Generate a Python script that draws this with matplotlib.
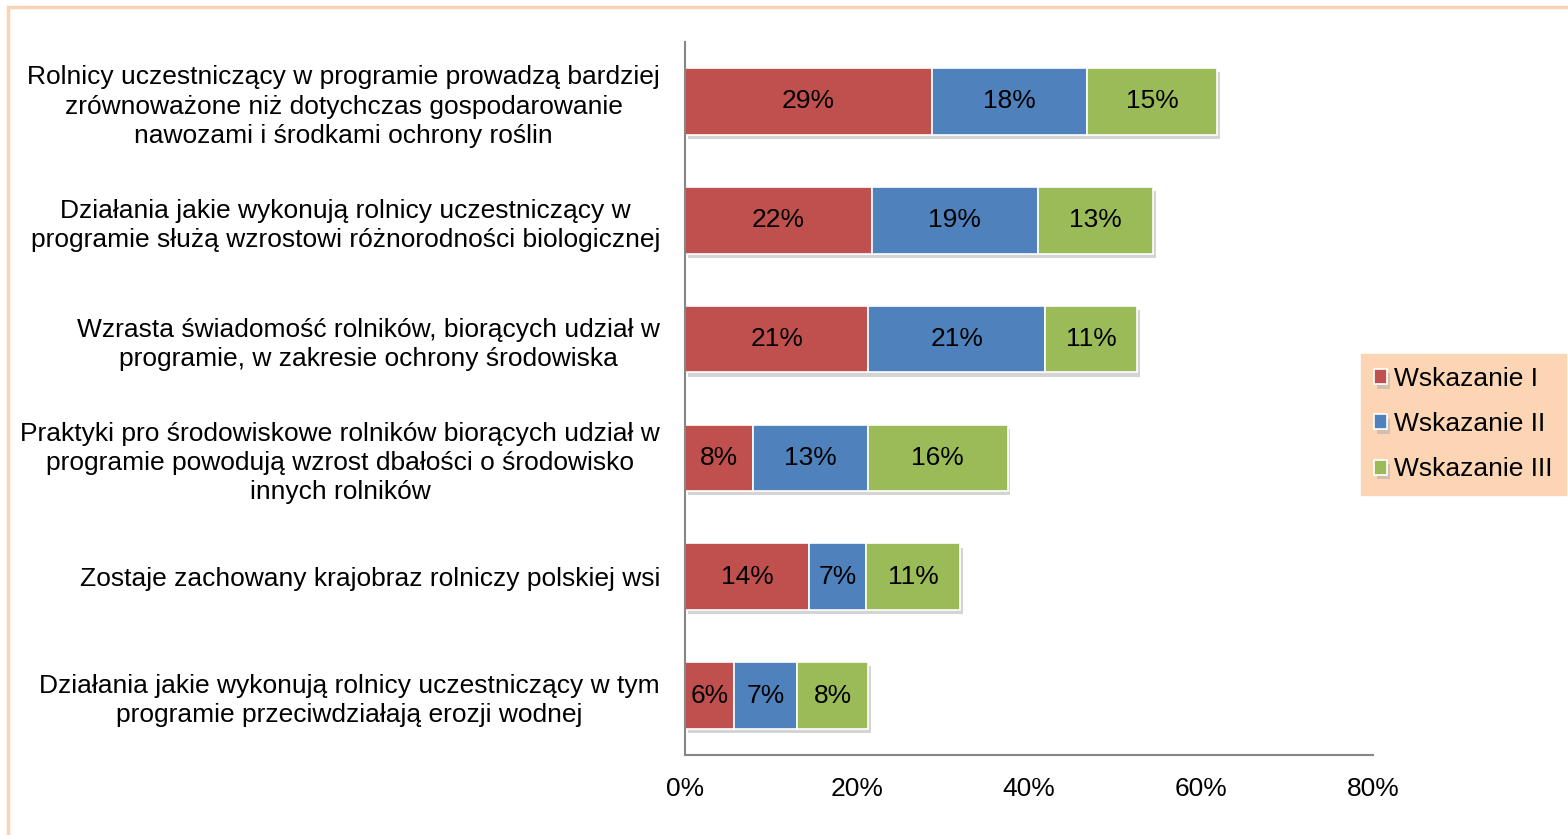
import matplotlib.pyplot as plt
import matplotlib.patheffects as pe
from matplotlib.patches import Rectangle
import numpy as np

plt.rcParams['font.family'] = ['Liberation Sans', 'DejaVu Sans']

categories = [
    'Rolnicy uczestniczący w programie prowadzą bardziej\nzrównoważone niż dotychczas gospodarowanie\nnawozami i środkami ochrony roślin',
    'Działania jakie wykonują rolnicy uczestniczący w\nprogramie służą wzrostowi różnorodności biologicznej',
    'Wzrasta świadomość rolników, biorących udział w\nprogramie, w zakresie ochrony środowiska',
    'Praktyki pro środowiskowe rolników biorących udział w\nprogramie powodują wzrost dbałości o środowisko\ninnych rolników',
    'Zostaje zachowany krajobraz rolniczy polskiej wsi',
    'Działania jakie wykonują rolnicy uczestniczący w tym\nprogramie przeciwdziałają erozji wodnej',
]
series_names = ['Wskazanie I', 'Wskazanie II', 'Wskazanie III']
wsk1 = [28.7, 21.7, 21.3, 7.9, 14.4, 5.7]
wsk2 = [18.0, 19.3, 20.6, 13.4, 6.7, 7.3]
wsk3 = [15.2, 13.4, 10.7, 16.2, 10.9, 8.3]
colors = ['#C0504D', '#4F81BD', '#9BBB59']
xticks = [0, 20, 40, 60, 80]

FS = 19

fig = plt.figure(figsize=(15.68, 8.35), dpi=100)
# peach frame around chart area
fig.patches.append(Rectangle((8 / 1568, -0.1), 1.2, 1 - 7 / 835 + 0.1,
                             transform=fig.transFigure, fill=False,
                             edgecolor='#FAD3B4', linewidth=2.5))
ax = fig.add_axes([685 / 1568, 1 - 755 / 835, (1373 - 685) / 1568, (755 - 42) / 835])

y = np.arange(len(categories))
left = np.zeros(len(categories))
shadow = [pe.SimplePatchShadow(offset=(2, -3), shadow_rgbFace='#aaaaaa', alpha=0.5), pe.Normal()]
for name, vals, c in zip(series_names, [wsk1, wsk2, wsk3], colors):
    bars = ax.barh(y, vals, left=left, height=0.56, color=c, edgecolor='white',
                   linewidth=1.2, label=name)
    for b in bars:
        b.set_path_effects(shadow)
    for yi, l, v in zip(y, left, vals):
        ax.text(l + v / 2, yi, f'{v:.0f}%', ha='center', va='center', fontsize=FS)
    left = left + np.array(vals)

ax.set_ylim(len(categories) - 0.5, -0.5)
ax.set_xlim(0, 80)
ax.set_xticks(xticks)
ax.set_xticklabels([f'{t}%' for t in xticks], fontsize=FS)
ax.set_yticks(y)
ax.set_yticklabels(categories, fontsize=FS, multialignment='center', linespacing=1.28)
ax.tick_params(axis='both', length=0)
ax.tick_params(axis='x', pad=16)
ax.tick_params(axis='y', pad=18)
for s in ['top', 'right']:
    ax.spines[s].set_visible(False)
for s in ['left', 'bottom']:
    ax.spines[s].set_color('#868686')
    ax.spines[s].set_linewidth(1.5)

leg = fig.legend(loc='upper left', bbox_to_anchor=(1361 / 1568, 1 - 354 / 835),
                 fontsize=FS, frameon=True, fancybox=False, handlelength=0.5,
                 handleheight=0.5, handletextpad=0.25, labelspacing=0.8,
                 borderpad=0.5, borderaxespad=0)
leg.get_frame().set_facecolor('#FCD5B5')
leg.get_frame().set_edgecolor('#FCD5B5')
leg.get_frame().set_alpha(1)

fig.savefig('out.png', dpi=100)
